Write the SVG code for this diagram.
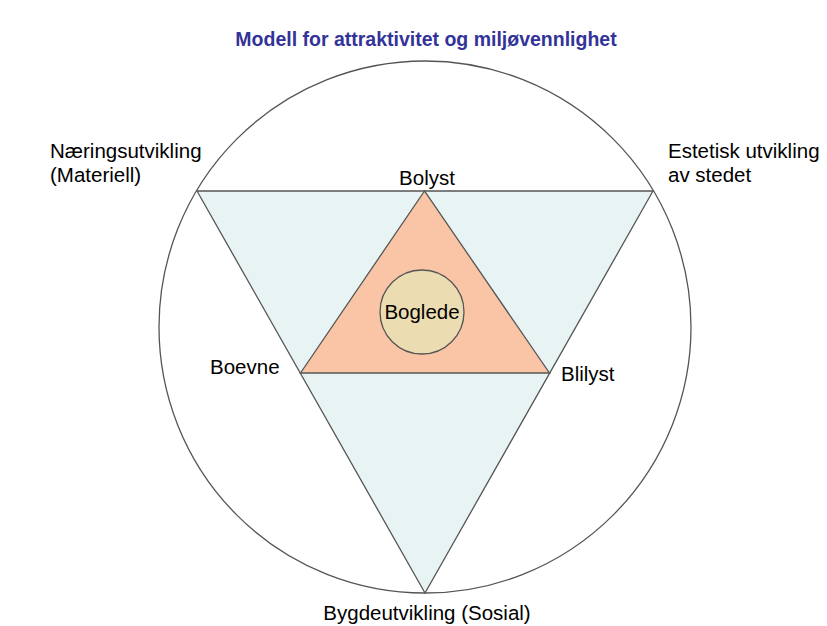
<svg xmlns="http://www.w3.org/2000/svg" width="827" height="626" viewBox="0 0 827 626">
<style>
.lbl{font-family:"Liberation Sans",Arial,sans-serif;font-size:20.5px;fill:#000}
.title{font-family:"Liberation Sans",Arial,sans-serif;font-size:19.5px;font-weight:bold;fill:#333399}
.ln{stroke:#555;stroke-width:1.3}
</style>
<rect width="827" height="626" fill="#fff"/>
<text class="title" x="426" y="46" text-anchor="middle">Modell for attraktivitet og miljøvennlighet</text>
<g id="outer-circle"><circle cx="425" cy="327" r="266" fill="#fff" class="ln"/></g>
<g id="outer-triangle"><polygon points="197,191 653,191 425,593" fill="#E8F4F4" class="ln"/></g>
<g id="inner-triangle"><polygon points="424.5,191 300.5,373 549.5,373" fill="#F9C5A6" class="ln"/></g>
<g id="boglede"><circle cx="422" cy="312" r="42" fill="#EBDDB1" class="ln"/>
<text class="lbl" x="422" y="319" text-anchor="middle">Boglede</text></g>
<g id="bolyst"><text class="lbl" x="427" y="185" text-anchor="middle">Bolyst</text></g>
<g id="boevne"><text class="lbl" x="210" y="374">Boevne</text></g>
<g id="blilyst"><text class="lbl" x="561" y="381">Blilyst</text></g>
<g id="naering"><text class="lbl" x="50" y="158">Næringsutvikling</text><text class="lbl" x="50" y="182">(Materiell)</text></g>
<g id="estetisk"><text class="lbl" x="668" y="158">Estetisk utvikling</text><text class="lbl" x="668" y="182">av stedet</text></g>
<g id="bygde"><text class="lbl" x="427" y="620" text-anchor="middle">Bygdeutvikling (Sosial)</text></g>
<g id="connectors"></g>
</svg>
